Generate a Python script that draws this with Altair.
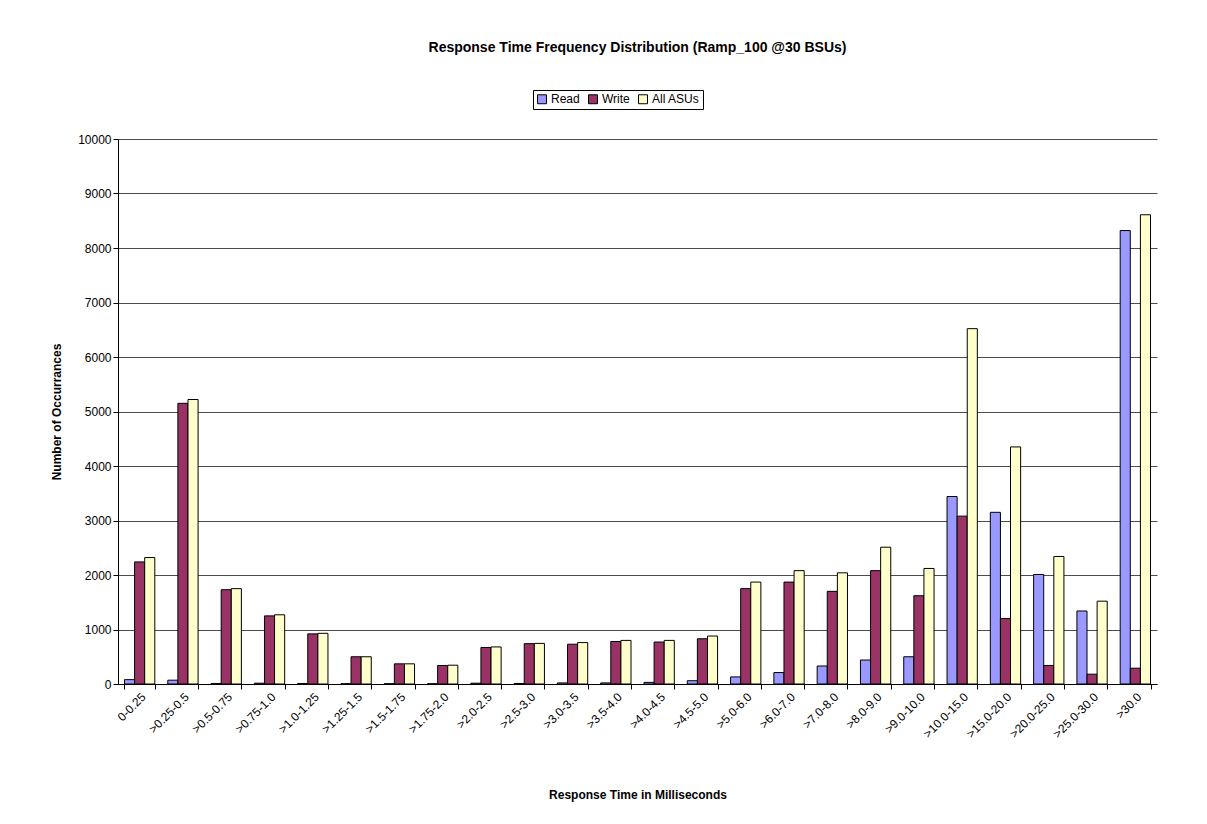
import altair as alt
import pandas as pd

categories = ["0-0.25", ">0.25-0.5", ">0.5-0.75", ">0.75-1.0", ">1.0-1.25", ">1.25-1.5",
              ">1.5-1.75", ">1.75-2.0", ">2.0-2.5", ">2.5-3.0", ">3.0-3.5", ">3.5-4.0",
              ">4.0-4.5", ">4.5-5.0", ">5.0-6.0", ">6.0-7.0", ">7.0-8.0", ">8.0-9.0",
              ">9.0-10.0", ">10.0-15.0", ">15.0-20.0", ">20.0-25.0", ">25.0-30.0", ">30.0"]
read = [80, 70, 10, 15, 10, 5, 5, 5, 15, 10, 20, 20, 30, 60, 130, 210, 330, 440, 500,
        3440, 3150, 2010, 1340, 8320]
write = [2240, 5150, 1730, 1250, 920, 500, 370, 340, 670, 740, 730, 780, 770, 830, 1750,
         1870, 1700, 2080, 1620, 3080, 1200, 340, 180, 290]
all_asus = [2320, 5220, 1750, 1270, 930, 500, 370, 345, 680, 745, 760, 800, 800, 880, 1870,
            2080, 2040, 2510, 2120, 6520, 4350, 2340, 1520, 8610]
series = ["Read", "Write", "All ASUs"]
colors = ["#9999FF", "#993366", "#FFFFCC"]

rows = []
for i, c in enumerate(categories):
    for s, vals in zip(series, [read, write, all_asus]):
        rows.append({"cat": c, "series": s, "value": vals[i]})
df = pd.DataFrame(rows)

font = "Liberation Sans"

chart = (
    alt.Chart(df)
    .mark_bar(stroke="black", strokeWidth=1)
    .encode(
        x=alt.X("cat:N", sort=categories, title="Response Time in Milliseconds",
                scale=alt.Scale(paddingInner=0.3, paddingOuter=0.15),
                axis=alt.Axis(labelAngle=-45, labelAlign="right", labelBaseline="top",
                              labelFontSize=12, labelColor="black", titleFontSize=12,
                              titleColor="black", domainColor="black", tickColor="black",
                              titlePadding=50, bandPosition=0, tickBand="extent")),
        xOffset=alt.XOffset("series:N", sort=series),
        y=alt.Y("value:Q", title="Number of Occurrances",
                scale=alt.Scale(domain=[0, 10000]),
                axis=alt.Axis(values=list(range(0, 10001, 1000)), format="d",
                              labelFontSize=12,
                              labelColor="black", titleFontSize=12, titleColor="black",
                              gridColor="black", gridOpacity=0.7, domainColor="black",
                              tickColor="black", titlePadding=14)),
        fill=alt.Fill("series:N", sort=series,
                      scale=alt.Scale(domain=series, range=colors),
                      legend=alt.Legend(title=None, orient="none", direction="horizontal",
                                        legendX=415, legendY=-49, symbolType="square",
                                        symbolStrokeColor="black", symbolStrokeWidth=1,
                                        symbolSize=80, labelFontSize=12, labelColor="black",
                                        strokeColor="black", padding=3, columnPadding=6,
                                        labelOffset=3)),
    )
    .properties(
        width=1039, height=545,
        title=alt.Title("Response Time Frequency Distribution (Ramp_100 @30 BSUs)",
                        fontSize=14, fontWeight="bold", color="black", offset=35),
        padding={"left": 110, "top": 131, "right": 42, "bottom": 132},
        autosize=alt.AutoSizeParams(type="none"),
    )
    .configure(font=font)
    .configure_axis(titleFontWeight="bold")
    .configure_title(anchor="middle", frame="group")
    .configure_view(stroke=None)
)

chart.save("out.html", embed_options={"renderer": "svg", "actions": False})
